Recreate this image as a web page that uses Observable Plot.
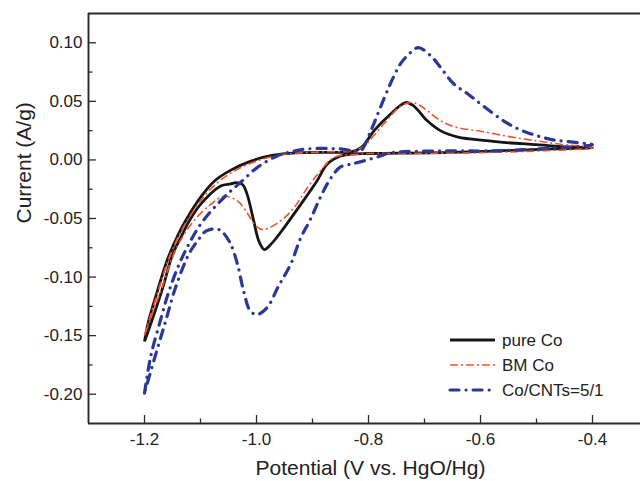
<!DOCTYPE html>
<html>
<head>
<meta charset="utf-8">
<script src="https://cdn.jsdelivr.net/npm/d3@7"></script>
<script src="https://cdn.jsdelivr.net/npm/@observablehq/plot@0.6"></script>
<style>
  html, body { margin: 0; padding: 0; background: #fff; overflow: hidden; }
  #chart svg { display: block; }
</style>
</head>
<body>
<div id="chart"></div>
<script>
// ---- Data ----
const seriesNames = ["pure Co", "BM Co", "Co/CNTs=5/1"];

// pure Co: closed CV loop (anodic sweep then cathodic sweep)
const pureCoV = [-1.2, -1.193, -1.177, -1.159, -1.14, -1.123, -1.10, -1.075, -1.045, -1.01, -0.97, -0.93, -0.87, -0.83, -0.812, -0.79, -0.761, -0.734, -0.719, -0.695, -0.671, -0.64, -0.59, -0.56, -0.5, -0.44, -0.4,
                 -0.47, -0.65, -0.8, -0.83, -0.85, -0.874, -0.892, -0.921, -0.951, -0.972, -0.986, -0.996, -1.005, -1.017, -1.025, -1.037, -1.046, -1.064, -1.1, -1.12, -1.136, -1.15, -1.168, -1.186, -1.2];
const pureCoI = [-0.155, -0.138, -0.112, -0.085, -0.064, -0.049, -0.032, -0.018, -0.0085, -0.001, 0.004, 0.006, 0.0065, 0.007, 0.011, 0.025, 0.039, 0.049, 0.046, 0.0334, 0.0248, 0.0195, 0.0165, 0.015, 0.013, 0.011, 0.0103,
                 0.0094, 0.0065, 0.0055, 0.005, 0.0034, -0.0037, -0.018, -0.038, -0.058, -0.0708, -0.0765, -0.069, -0.052, -0.029, -0.021, -0.0194, -0.0205, -0.0223, -0.038, -0.052, -0.067, -0.081, -0.110, -0.136, -0.155];

// BM Co
const bmCoV = [-1.2, -1.19, -1.175, -1.158, -1.14, -1.12, -1.095, -1.07, -1.04, -1.0, -0.96, -0.92, -0.87, -0.83, -0.81, -0.79, -0.765, -0.745, -0.725, -0.71, -0.695, -0.671, -0.642, -0.6, -0.546, -0.5, -0.457, -0.4,
               -0.6, -0.8, -0.82, -0.862, -0.886, -0.909, -0.933, -0.957, -0.987, -1.0, -1.017, -1.034, -1.058, -1.082, -1.112, -1.136, -1.15, -1.168, -1.185, -1.2];
const bmCoI = [-0.150, -0.134, -0.111, -0.086, -0.066, -0.049, -0.032, -0.0195, -0.0095, -0.001, 0.004, 0.006, 0.007, 0.0075, 0.011, 0.021, 0.035, 0.045, 0.049, 0.047, 0.042, 0.0334, 0.0277, 0.0245, 0.0197, 0.0163, 0.0134, 0.0105,
               0.0062, 0.0055, 0.0049, 0.002, -0.0094, -0.0237, -0.0408, -0.052, -0.0595, -0.057, -0.045, -0.035, -0.031, -0.038, -0.052, -0.069, -0.083, -0.108, -0.13, -0.150];

// Co/CNTs=5/1
const cntV = [-1.2, -1.189, -1.171, -1.157, -1.139, -1.121, -1.10, -1.076, -1.046, -1.029, -0.999, -0.963, -0.939, -0.909, -0.85, -0.827, -0.814, -0.796, -0.779, -0.761, -0.743, -0.725, -0.711, -0.689, -0.671, -0.648, -0.623, -0.595, -0.559, -0.529, -0.498, -0.47, -0.439, -0.4,
              -0.498, -0.5875, -0.671, -0.761, -0.784, -0.81, -0.83, -0.85, -0.868, -0.886, -0.904, -0.921, -0.939, -0.961, -0.981, -0.999, -1.011, -1.023, -1.034, -1.046, -1.059, -1.07, -1.091, -1.105, -1.121, -1.145, -1.1625, -1.18, -1.2];
const cntI = [-0.199, -0.168, -0.136, -0.113, -0.090, -0.072, -0.055, -0.041, -0.0265, -0.0194, -0.0066, 0.0034, 0.0068, 0.0094, 0.0094, 0.0077, 0.0077, 0.0248, 0.0445, 0.065, 0.082, 0.0916, 0.0959, 0.089, 0.0788, 0.065, 0.0565, 0.046, 0.0334, 0.0257, 0.0205, 0.0171, 0.0154, 0.013,
              0.0094, 0.0077, 0.0077, 0.006, 0.0025, -0.001, -0.0035, -0.006, -0.016, -0.032, -0.051, -0.0665, -0.089, -0.108, -0.126, -0.132, -0.129, -0.112, -0.089, -0.072, -0.0625, -0.059, -0.061, -0.069, -0.0805, -0.1096, -0.138, -0.166, -0.199];

// Axis ticks
const xMajor = [-1.2, -1.0, -0.8, -0.6, -0.4];
const xMinor = [-1.1, -0.9, -0.7, -0.5];
const yMajor = [-0.20, -0.15, -0.10, -0.05, 0.00, 0.05, 0.10];
const yMinor = [-0.175, -0.125, -0.075, -0.025, 0.025, 0.075];
const xLabel = "Potential (V vs. HgO/Hg)";
const yLabel = "Current (A/g)";

// ---- Styles ----
const colors = ["#161616", "#f2542a", "#2b3894"];
const widths = [2.8, 1.6, 3.2];
const dashes = [null, "8,3,2,3", "9,7,0.1,7"];
const caps = ["butt", "butt", "round"];

const toRows = (V, I) => V.map((v, i) => ({V: v, I: I[i]}));
const curves = [toRows(pureCoV, pureCoI), toRows(bmCoV, bmCoI), toRows(cntV, cntI)];

const xDomain = [-1.3, -0.3143];
const yDomain = [-0.225, 0.125];
const font = "'Liberation Sans', Arial, Helvetica, sans-serif";

const chart = Plot.plot({
  width: 640,
  height: 481,
  marginLeft: 88,
  marginRight: 0,
  marginTop: 13,
  marginBottom: 58,
  x: {domain: xDomain},
  y: {domain: yDomain},
  style: {fontFamily: font, fontSize: "17px", color: "#222", background: "#fff"},
  marks: [
    ...curves.map((data, k) => Plot.line(data, {
      x: "V", y: "I", curve: "catmull-rom",
      stroke: colors[k], strokeWidth: widths[k],
      strokeDasharray: dashes[k], strokeLinecap: caps[k], strokeLinejoin: "round"
    })),
    Plot.ruleX([xDomain[0]], {stroke: "#2a2a2a", strokeWidth: 1.9}),
    Plot.ruleY([yDomain[0], yDomain[1]], {stroke: "#2a2a2a", strokeWidth: 1.9}),
    Plot.axisX(xMajor, {tickSize: -8, tickPadding: 17, tickFormat: d => d.toFixed(1), label: null, stroke: "#2a2a2a", strokeWidth: 1.3}),
    Plot.axisX(xMinor, {tickSize: -4.5, tickFormat: () => "", label: null, stroke: "#2a2a2a", strokeWidth: 1.3}),
    Plot.axisY(yMajor, {tickSize: -8, tickPadding: 14, tickFormat: d => d.toFixed(2), label: null, stroke: "#2a2a2a", strokeWidth: 1.3}),
    Plot.axisY(yMinor, {tickSize: -4.5, tickFormat: () => "", label: null, stroke: "#2a2a2a", strokeWidth: 1.3}),
    Plot.text([xLabel], {frameAnchor: "bottom", dx: 6, dy: 45, fontSize: 21, fill: "#222", lineAnchor: "middle"}),
    Plot.text([yLabel], {frameAnchor: "left", dx: -64, dy: 5, rotate: -90, fontSize: 21, fill: "#222", lineAnchor: "middle"})
  ]
});

// Legend (inside plot, lower right)
const svg = d3.select(chart);
const lg = svg.append("g").attr("font-family", font).attr("font-size", 17).attr("fill", "#222").attr("text-anchor", "start");
seriesNames.forEach((name, k) => {
  const yy = 340 + k * 25;
  lg.append("line").attr("x1", 450).attr("x2", 495).attr("y1", yy).attr("y2", yy)
    .attr("stroke", colors[k]).attr("stroke-width", widths[k])
    .attr("stroke-dasharray", dashes[k]).attr("stroke-linecap", caps[k]);
  lg.append("text").attr("x", 502).attr("y", yy).attr("dy", "0.35em").attr("text-anchor", "start").text(name);
});

document.getElementById("chart").append(chart);
</script>
</body>
</html>
